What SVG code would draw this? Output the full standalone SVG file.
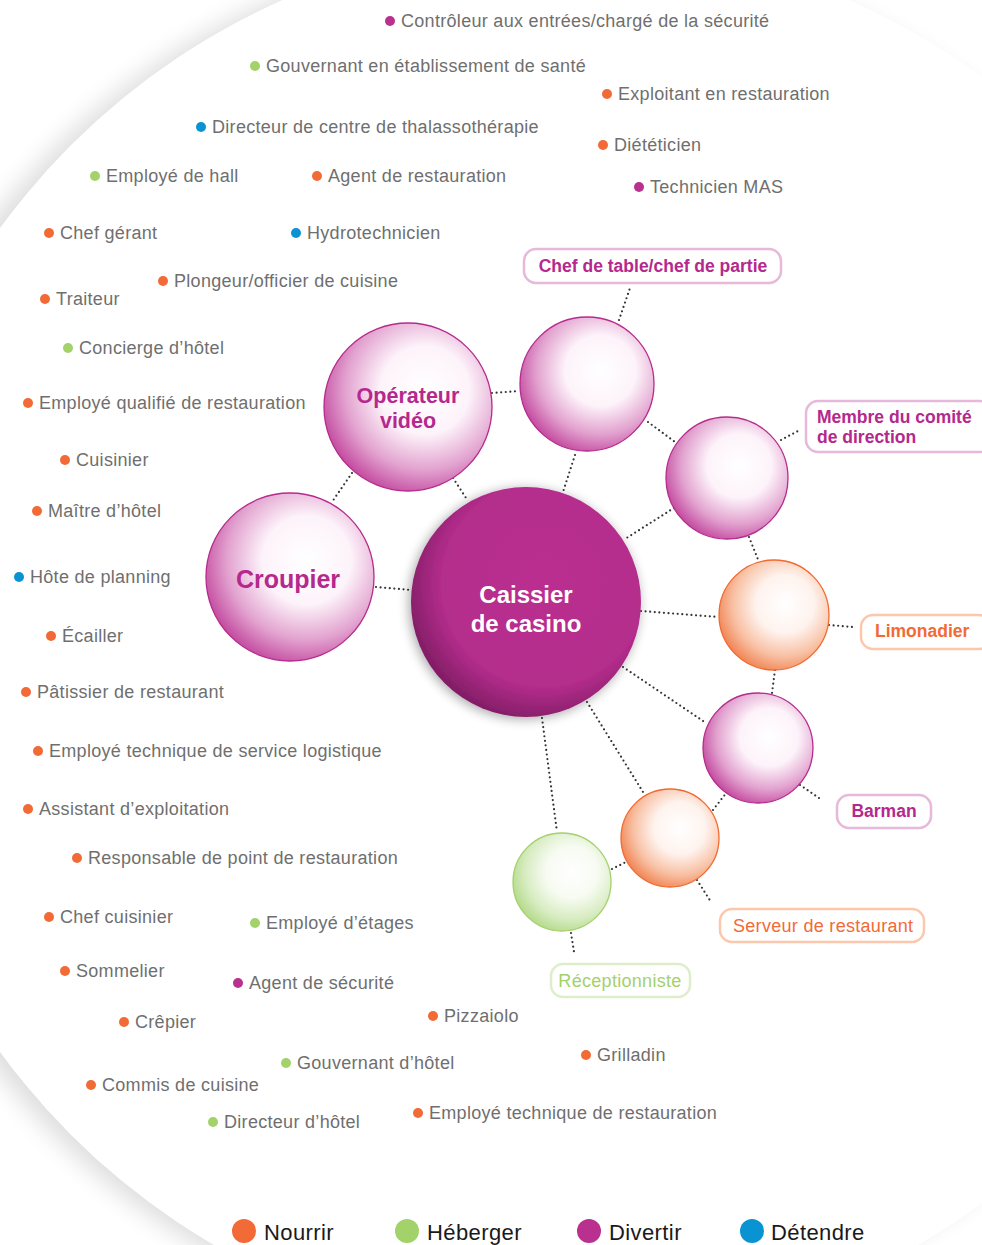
<svg xmlns="http://www.w3.org/2000/svg" width="982" height="1245" viewBox="0 0 982 1245">
<defs>
  <filter id="bgBlur" x="-10%" y="-10%" width="120%" height="120%"><feGaussianBlur stdDeviation="12"/></filter>
  <filter id="ctrShadow" x="-20%" y="-20%" width="140%" height="140%"><feGaussianBlur in="SourceAlpha" stdDeviation="6"/><feOffset dx="-2" dy="2"/><feComponentTransfer><feFuncA type="linear" slope="0.35"/></feComponentTransfer><feMerge><feMergeNode/><feMergeNode in="SourceGraphic"/></feMerge></filter>
  <radialGradient id="gPink" cx="0.6" cy="0.4" r="0.66">
    <stop offset="0" stop-color="#ffffff"/>
    <stop offset="0.4" stop-color="#fdf3fa"/>
    <stop offset="0.72" stop-color="#e2a2cf"/>
    <stop offset="1" stop-color="#c0409a"/>
  </radialGradient>
  <radialGradient id="gOrange" cx="0.6" cy="0.4" r="0.66">
    <stop offset="0" stop-color="#ffffff"/>
    <stop offset="0.4" stop-color="#fef3ee"/>
    <stop offset="0.72" stop-color="#f8c0a3"/>
    <stop offset="1" stop-color="#f07d4b"/>
  </radialGradient>
  <radialGradient id="gGreen" cx="0.6" cy="0.4" r="0.66">
    <stop offset="0" stop-color="#ffffff"/>
    <stop offset="0.4" stop-color="#f7fbf2"/>
    <stop offset="0.72" stop-color="#d8ecc2"/>
    <stop offset="1" stop-color="#b0d884"/>
  </radialGradient>
  <radialGradient id="gCenter" cx="0.58" cy="0.42" r="0.62">
    <stop offset="0" stop-color="#ba2f90"/>
    <stop offset="0.72" stop-color="#b42d8c"/>
    <stop offset="1" stop-color="#7e1c63"/>
  </radialGradient>
</defs>
<style>
  .job{font-family:"Liberation Sans",Arial,sans-serif;font-size:18px;fill:#6f6f6f;letter-spacing:0.3px}
  .o{fill:#f26a36}
  .g{fill:#a3d16a}
  .m{fill:#b9308f}
  .b{fill:#0a93d3}
  .conn line{stroke:#333;stroke-width:2.2;stroke-dasharray:0 4.6;stroke-linecap:round;fill:none}
  .bubP{fill:url(#gPink);stroke:#b62b8d;stroke-width:1.3}
  .bubO{fill:url(#gOrange);stroke:#f26a2f;stroke-width:1.3}
  .bubG{fill:url(#gGreen);stroke:#a5d06b;stroke-width:1.3}
  .bt{font-family:"Liberation Sans",Arial,sans-serif;font-weight:bold;text-anchor:middle}
  .lbl{font-family:"Liberation Sans",Arial,sans-serif;font-size:17.5px}
  .boxP{fill:#fff;stroke:#e6b8da;stroke-width:2.5}
  .boxO{fill:#fff;stroke:#fcc8ad;stroke-width:2.5}
  .boxG{fill:#fff;stroke:#deeecb;stroke-width:2.5}
  .leg{font-family:"Liberation Sans",Arial,sans-serif;font-size:22px;fill:#1a1a1a;letter-spacing:0.4px}
</style>
<rect width="982" height="1245" fill="#fff"/>
<circle cx="548" cy="642" r="698" fill="#000" opacity="0.13" filter="url(#bgBlur)"/>
<circle cx="566" cy="640" r="700" fill="#fff"/>

<g id="jobs">
  <circle class="m" cx="390" cy="21" r="5"/><text class="job" x="401" y="27">Contrôleur aux entrées/chargé de la sécurité</text>
  <circle class="g" cx="255" cy="66" r="5"/><text class="job" x="266" y="72">Gouvernant en établissement de santé</text>
  <circle class="o" cx="607" cy="94" r="5"/><text class="job" x="618" y="100">Exploitant en restauration</text>
  <circle class="b" cx="201" cy="127" r="5"/><text class="job" x="212" y="133">Directeur de centre de thalassothérapie</text>
  <circle class="o" cx="603" cy="145" r="5"/><text class="job" x="614" y="151">Diététicien</text>
  <circle class="g" cx="95" cy="176" r="5"/><text class="job" x="106" y="182">Employé de hall</text>
  <circle class="o" cx="317" cy="176" r="5"/><text class="job" x="328" y="182">Agent de restauration</text>
  <circle class="m" cx="639" cy="187" r="5"/><text class="job" x="650" y="193">Technicien MAS</text>
  <circle class="o" cx="49" cy="233" r="5"/><text class="job" x="60" y="239">Chef gérant</text>
  <circle class="b" cx="296" cy="233" r="5"/><text class="job" x="307" y="239">Hydrotechnicien</text>
  <circle class="o" cx="163" cy="281" r="5"/><text class="job" x="174" y="287">Plongeur/officier de cuisine</text>
  <circle class="o" cx="45" cy="299" r="5"/><text class="job" x="56" y="305">Traiteur</text>
  <circle class="g" cx="68" cy="348" r="5"/><text class="job" x="79" y="354">Concierge d’hôtel</text>
  <circle class="o" cx="28" cy="403" r="5"/><text class="job" x="39" y="409">Employé qualifié de restauration</text>
  <circle class="o" cx="65" cy="460" r="5"/><text class="job" x="76" y="466">Cuisinier</text>
  <circle class="o" cx="37" cy="511" r="5"/><text class="job" x="48" y="517">Maître d’hôtel</text>
  <circle class="b" cx="19" cy="577" r="5"/><text class="job" x="30" y="583">Hôte de planning</text>
  <circle class="o" cx="51" cy="636" r="5"/><text class="job" x="62" y="642">Écailler</text>
  <circle class="o" cx="26" cy="692" r="5"/><text class="job" x="37" y="698">Pâtissier de restaurant</text>
  <circle class="o" cx="38" cy="751" r="5"/><text class="job" x="49" y="757">Employé technique de service logistique</text>
  <circle class="o" cx="28" cy="809" r="5"/><text class="job" x="39" y="815">Assistant d’exploitation</text>
  <circle class="o" cx="77" cy="858" r="5"/><text class="job" x="88" y="864">Responsable de point de restauration</text>
  <circle class="o" cx="49" cy="917" r="5"/><text class="job" x="60" y="923">Chef cuisinier</text>
  <circle class="g" cx="255" cy="923" r="5"/><text class="job" x="266" y="929">Employé d’étages</text>
  <circle class="o" cx="65" cy="971" r="5"/><text class="job" x="76" y="977">Sommelier</text>
  <circle class="m" cx="238" cy="983" r="5"/><text class="job" x="249" y="989">Agent de sécurité</text>
  <circle class="o" cx="124" cy="1022" r="5"/><text class="job" x="135" y="1028">Crêpier</text>
  <circle class="o" cx="433" cy="1016" r="5"/><text class="job" x="444" y="1022">Pizzaiolo</text>
  <circle class="g" cx="286" cy="1063" r="5"/><text class="job" x="297" y="1069">Gouvernant d’hôtel</text>
  <circle class="o" cx="586" cy="1055" r="5"/><text class="job" x="597" y="1061">Grilladin</text>
  <circle class="o" cx="91" cy="1085" r="5"/><text class="job" x="102" y="1091">Commis de cuisine</text>
  <circle class="g" cx="213" cy="1122" r="5"/><text class="job" x="224" y="1128">Directeur d’hôtel</text>
  <circle class="o" cx="418" cy="1113" r="5"/><text class="job" x="429" y="1119">Employé technique de restauration</text>
</g>

<g id="connectors" class="conn">
  <line x1="352" y1="473" x2="332" y2="502"/>
  <line x1="453" y1="478" x2="468" y2="501"/>
  <line x1="492" y1="393" x2="519" y2="391"/>
  <line x1="575" y1="455" x2="563" y2="492"/>
  <line x1="619" y1="320" x2="630" y2="288"/>
  <line x1="648" y1="422" x2="675" y2="442"/>
  <line x1="781" y1="440" x2="798" y2="431"/>
  <line x1="674" y1="508" x2="625" y2="539"/>
  <line x1="749" y1="537" x2="759" y2="562"/>
  <line x1="376" y1="587" x2="411" y2="590"/>
  <line x1="641" y1="611" x2="718" y2="617"/>
  <line x1="829" y1="625" x2="853" y2="627"/>
  <line x1="775" y1="670" x2="772" y2="693"/>
  <line x1="623" y1="667" x2="706" y2="723"/>
  <line x1="587" y1="702" x2="643" y2="792"/>
  <line x1="542" y1="718" x2="557" y2="832"/>
  <line x1="713" y1="810" x2="727" y2="792"/>
  <line x1="800" y1="785" x2="819" y2="798"/>
  <line x1="697" y1="880" x2="711" y2="902"/>
  <line x1="612" y1="869" x2="626" y2="862"/>
  <line x1="571" y1="933" x2="574" y2="952"/>
</g>

<g id="node-caissier">
  <circle cx="526" cy="602" r="115" fill="url(#gCenter)" filter="url(#ctrShadow)"/>
  <text class="bt" x="526" y="603" font-size="24" fill="#fff">Caissier</text>
  <text class="bt" x="526" y="632" font-size="24" fill="#fff">de casino</text>
</g>
<g id="node-operateur">
  <circle class="bubP" cx="408" cy="407" r="84"/>
  <text class="bt" x="408" y="403" font-size="21.5" fill="#b5288d">Opérateur</text>
  <text class="bt" x="408" y="428" font-size="21.5" fill="#b5288d">vidéo</text>
</g>
<g id="node-croupier">
  <circle class="bubP" cx="290" cy="577" r="84"/>
  <text class="bt" x="288" y="588" font-size="25" fill="#b5288d">Croupier</text>
</g>
<g id="node-chef-table">
  <circle class="bubP" cx="587" cy="384" r="67"/>
  <rect class="boxP" x="524" y="249" width="257" height="34" rx="12"/>
  <text class="lbl" x="653" y="272" text-anchor="middle" font-weight="bold" fill="#b5288d">Chef de table/chef de partie</text>
</g>
<g id="node-membre">
  <circle class="bubP" cx="727" cy="478" r="61"/>
  <rect class="boxP" x="806" y="401" width="186" height="51" rx="12"/>
  <text class="lbl" x="817" y="423" font-weight="bold" fill="#b5288d">Membre du comité</text>
  <text class="lbl" x="817" y="443" font-weight="bold" fill="#b5288d">de direction</text>
</g>
<g id="node-limonadier">
  <circle class="bubO" cx="774" cy="615" r="55"/>
  <rect class="boxO" x="861" y="615" width="130" height="34" rx="12"/>
  <text class="lbl" x="875" y="637" font-size="18" font-weight="bold" fill="#f26a36">Limonadier</text>
</g>
<g id="node-barman">
  <circle class="bubP" cx="758" cy="748" r="55"/>
  <rect class="boxP" x="837" y="795" width="94" height="33" rx="12"/>
  <text class="lbl" x="884" y="817" text-anchor="middle" font-weight="bold" fill="#b5288d">Barman</text>
</g>
<g id="node-serveur">
  <circle class="bubO" cx="670" cy="838" r="49"/>
  <rect class="boxO" x="720" y="909" width="204" height="33" rx="12"/>
  <text class="job" x="733" y="932" style="fill:#f26a36">Serveur de restaurant</text>
</g>
<g id="node-receptionniste">
  <circle class="bubG" cx="562" cy="882" r="49"/>
  <rect class="boxG" x="551" y="964" width="139" height="33" rx="12"/>
  <text class="job" x="620" y="987" text-anchor="middle" style="fill:#a3d16a">Réceptionniste</text>
</g>

<g id="legend">
  <circle class="o" cx="244" cy="1231" r="12"/><text class="leg" x="264" y="1240">Nourrir</text>
  <circle class="g" cx="407" cy="1231" r="12"/><text class="leg" x="427" y="1240">Héberger</text>
  <circle class="m" cx="589" cy="1231" r="12"/><text class="leg" x="609" y="1240">Divertir</text>
  <circle class="b" cx="752" cy="1231" r="12"/><text class="leg" x="771" y="1240">Détendre</text>
</g>
</svg>
